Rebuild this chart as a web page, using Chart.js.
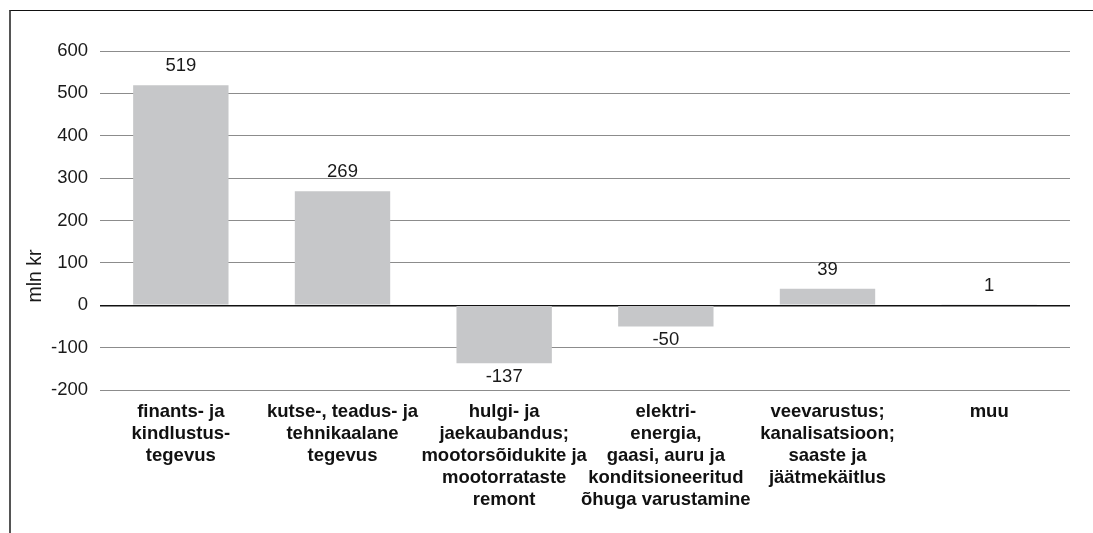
<!DOCTYPE html>
<html>
<head>
<meta charset="utf-8">
<script src="https://cdn.jsdelivr.net/npm/chart.js@4"></script>
<style>
  body { margin: 0; background: #fff; }
  #wrap { position: relative; width: 1093px; height: 533px; overflow: hidden; }
  #frame { position: absolute; left: 9px; top: 10px; width: 1200px; height: 700px;
           border-left: 2px solid #555; border-top: 1px solid #111; }
  canvas { position: absolute; left: 0; top: 0; }
</style>
</head>
<body>
<div id="wrap">
  <div id="frame"></div>
  <canvas id="myChart" width="1093" height="533"></canvas>
</div>
<script>
const categories = [
  ["finants- ja", "kindlustus-", "tegevus"],
  ["kutse-, teadus- ja", "tehnikaalane", "tegevus"],
  ["hulgi- ja", "jaekaubandus;", "mootorsõidukite ja", "mootorrataste", "remont"],
  ["elektri-", "energia,", "gaasi, auru ja", "konditsioneeritud", "õhuga varustamine"],
  ["veevarustus;", "kanalisatsioon;", "saaste ja", "jäätmekäitlus"],
  ["muu"]
];
const values = [519, 269, -137, -50, 39, 1];
const yTicks = [600, 500, 400, 300, 200, 100, 0, -100, -200];
const yTitle = "mln kr";

const font = "'Liberation Sans', Arial, Helvetica, sans-serif";

// value labels above / below bars
const valueLabels = {
  id: 'valueLabels',
  afterDatasetsDraw(chart) {
    const ctx = chart.ctx;
    const meta = chart.getDatasetMeta(0);
    ctx.save();
    ctx.font = "18.5px " + font;
    ctx.fillStyle = "#1a1a1a";
    ctx.textAlign = "center";
    meta.data.forEach((bar, i) => {
      const v = values[i];
      if (v >= 0) {
        ctx.textBaseline = "bottom";
        ctx.fillText(String(v), bar.x, bar.y - 10);
      } else {
        ctx.textBaseline = "top";
        ctx.fillText(String(v), bar.x, bar.y + 4);
      }
    });
    ctx.restore();
  }
};

// rotated axis title, placed like the original
const axisTitle = {
  id: 'axisTitle',
  afterDraw(chart) {
    const ctx = chart.ctx;
    ctx.save();
    ctx.translate(36, 276);
    ctx.rotate(-Math.PI / 2);
    ctx.font = "19.5px " + font;
    ctx.fillStyle = "#1a1a1a";
    ctx.textAlign = "center";
    ctx.textBaseline = "middle";
    ctx.fillText(yTitle, 0, 0);
    ctx.restore();
  }
};

const data = {
  labels: categories,
  datasets: [{
    data: values,
    backgroundColor: '#c6c7c9',
    borderWidth: 0,
    barPercentage: 0.59,
    categoryPercentage: 1
  }]
};

const config = {
  type: 'bar',
  data: data,
  plugins: [valueLabels, axisTitle],
  options: {
    responsive: false,
    animation: false,
    layout: { padding: { top: 51, right: 23, left: 0, bottom: 0 } },
    plugins: { legend: { display: false }, tooltip: { enabled: false } },
    scales: {
      y: {
        min: yTicks[yTicks.length - 1],
        max: yTicks[0],
        afterBuildTicks: (scale) => { scale.ticks = yTicks.map(v => ({ value: v })); },
        afterFit: (scale) => { scale.width = 100; },
        border: { display: false },
        grid: {
          drawTicks: false,
          color: (c) => c.tick && c.tick.value === 0 ? '#111' : '#8c8c8c',
          lineWidth: (c) => c.tick && c.tick.value === 0 ? 1.5 : 1
        },
        ticks: { padding: 12, color: '#1a1a1a', font: { family: font, size: 18.5 } }
      },
      x: {
        afterFit: (scale) => { scale.height = 143; },
        border: { display: false },
        grid: { display: false, drawTicks: false },
        ticks: {
          padding: 11,
          autoSkip: false,
          maxRotation: 0,
          color: '#111',
          font: { family: font, size: 18.5, weight: 'bold', lineHeight: 1.19 }
        }
      }
    }
  }
};

window.myChart = new Chart(document.getElementById('myChart'), config);
</script>
</body>
</html>
